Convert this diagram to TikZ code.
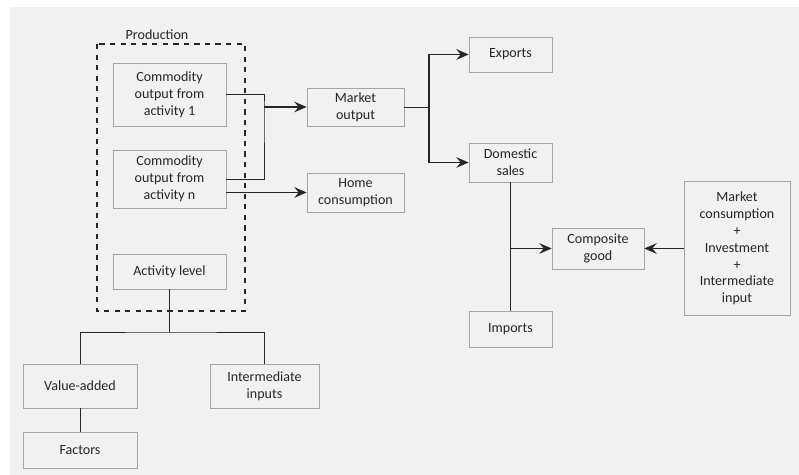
\documentclass[tikz,border=0pt]{standalone}
\usepackage{fontspec}
\setmainfont{Carlito}
\usetikzlibrary{arrows.meta}
\definecolor{bggray}{HTML}{F1F1F1}
\definecolor{boxline}{HTML}{A6A6A6}
\definecolor{ink}{HTML}{262626}
\tikzset{
  box/.style={draw=boxline, fill=bggray, text=ink, align=center, inner sep=1pt,
    font=\fontsize{8}{9.6}\selectfont},
  link/.style={draw=ink, line width=0.5pt},
  arr/.style={draw=ink, line width=1.1pt, -{Stealth[length=7pt,width=6pt,inset=2.5pt]}}
}
\begin{document}
\begin{tikzpicture}[x=0.02cm,y=-0.02cm]
            \useasboundingbox (0,0) rectangle (799,475);
            \fill[bggray] (10,7) rectangle (799,475);
            % Production block
            \draw[ink, dashed, line width=0.7pt] (97,44) rectangle (245,311);
            \node[text=ink, font=\fontsize{8}{9.6}\selectfont] (prodlabel) at (157,35) {Production};
            \node[box, minimum width=113*0.02cm, minimum height=63*0.02cm] (c1) at (169.5,94.5) {Commodity\\output from\\activity 1};
            \node[box, minimum width=113*0.02cm, minimum height=58*0.02cm] (cn) at (169.5,179) {Commodity\\output from\\activity n};
            \node[box, minimum width=113*0.02cm, minimum height=35*0.02cm] (act) at (169.5,271.5) {Activity level};
            % Outputs
            \node[box, minimum width=97*0.02cm, minimum height=38*0.02cm] (mkt) at (355.5,107) {Market\\output};
            \node[box, minimum width=97*0.02cm, minimum height=39*0.02cm] (home) at (355.5,192.5) {Home\\consumption};
            \node[box, minimum width=83*0.02cm, minimum height=35*0.02cm] (exp) at (510.5,54.5) {Exports};
            \node[box, minimum width=83*0.02cm, minimum height=39*0.02cm] (dom) at (510.5,162.5) {Domestic\\sales};
            \node[box, minimum width=83*0.02cm, minimum height=36*0.02cm] (imp) at (510.5,329) {Imports};
            \node[box, minimum width=92*0.02cm, minimum height=41*0.02cm] (comp) at (598,248.5) {Composite\\good};
            \node[box, minimum width=106*0.02cm, minimum height=134*0.02cm] (mcons) at (737,248.5) {Market\\consumption\\+\\Investment\\+\\Intermediate\\input};
            % Inputs
            \node[box, minimum width=114*0.02cm, minimum height=44*0.02cm] (va) at (80,386) {Value-added};
            \node[box, minimum width=109*0.02cm, minimum height=44*0.02cm] (ii) at (264.5,386) {Intermediate\\inputs};
            \node[box, minimum width=114*0.02cm, minimum height=36*0.02cm] (fac) at (80,450) {Factors};
            \coordinate (j1) at (264,107);
            \coordinate (j2) at (429,107);
            \coordinate (j3) at (169.5,332);
            % Commodities to market and home
            \draw[link] (c1.east) -| (j1) |- (cn.east);
            \draw[arr] (j1) -- (mkt);
            \draw[arr] (cn.east |- home) -- (home);
            % Market output split
            \draw[link] (mkt) -- (j2);
            \draw[arr] (j2) |- (exp);
            \draw[arr] (j2) |- (dom);
            % Composite good
            \draw[link] (dom) -- (imp);
            \draw[arr] (dom.south |- comp) -- (comp);
            \draw[arr] (mcons) -- (comp);
            % Activity level inputs
            \draw[link] (act) -- (j3);
            \draw[link] (va.north) |- (j3) -| (ii.north);
            \draw[link] (va) -- (fac);
        \end{tikzpicture}
\end{document}
